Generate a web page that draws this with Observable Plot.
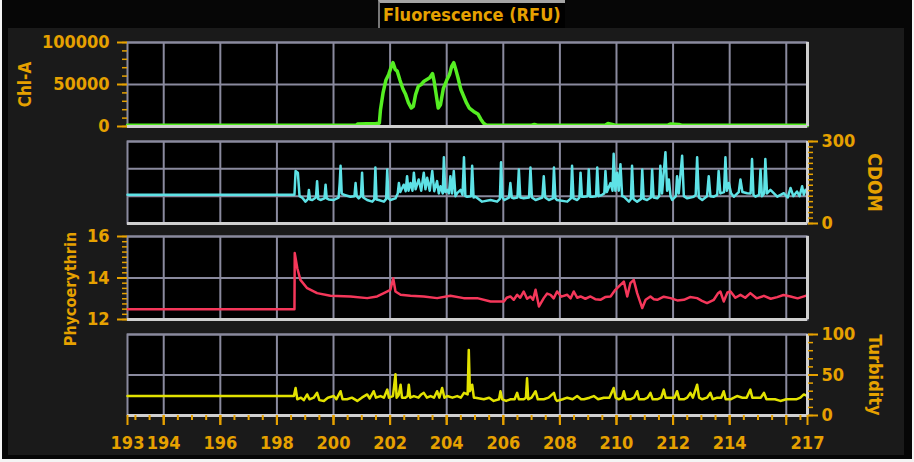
<!DOCTYPE html>
<html><head><meta charset="utf-8">
<script src="https://cdn.jsdelivr.net/npm/d3@7"></script>
<script src="https://cdn.jsdelivr.net/npm/@observablehq/plot@0.6"></script>
<style>
html,body{margin:0;padding:0;background:#fff;}
#wrap{position:relative;width:914px;height:462px;overflow:hidden;background:#f4f4f4;}
#frame{position:absolute;left:2px;top:0;width:910px;height:459px;background:#060606;}
#back{position:absolute;left:8px;top:28px;width:896px;height:427px;background:#1a1a1a;}
#title{position:absolute;left:378px;top:0px;width:187px;height:28px;background:#000;border-top:3px solid #a4a4a4;border-left:2px solid #777;color:#e6a100;font-family:"DejaVu Sans Condensed","DejaVu Sans",sans-serif;font-stretch:condensed;font-weight:bold;font-size:18px;line-height:24px;padding-left:3px;box-sizing:border-box;white-space:nowrap;}
#wrap svg{position:absolute;left:0;}
</style></head><body>
<div id="wrap"><div id="frame"></div><div id="back"></div><div id="title">Fluorescence (RFU)</div></div>
<script>
// ---- X axis (day of year) ----
const xDomain = [192.72, 216.75];
const xGrid = [194,196,198,200,202,204,206,208,210,212,214,216];
const xTickPos = [192.72,194,196,198,200,202,204,206,208,210,212,214,216.75];
const xTickLabels = ["193","194","196","198","200","202","204","206","208","210","212","214","217"];
const xMinor = [193,193.5,194,194.5,195,195.5,196,196.5,197,197.5,198,198.5,199,199.5,200,200.5,201,201.5,202,202.5,203,203.5,204,204.5,205,205.5,206,206.5,207,207.5,208,208.5,209,209.5,210,210.5,211,211.5,212,212.5,213,213.5,214,214.5,215,215.5,216,216.5];

// ---- Chl-A ----
const chlDay = [192.72,200.8,200.85,201.5,201.62,201.66,201.75,201.85,201.95,202.05,202.1,202.18,202.25,202.35,202.45,202.55,202.65,202.75,202.82,202.9,203.0,203.1,203.2,203.3,203.4,203.5,203.55,203.62,203.7,203.78,203.88,204.0,204.1,204.18,204.25,204.32,204.4,204.5,204.6,204.7,204.8,204.95,205.1,205.2,205.3,205.4,207.0,207.1,207.2,209.6,209.7,209.85,209.95,211.8,211.9,212.2,212.3,216.75];
const chlVal = [1500,1500,3000,3500,4000,20000,40000,55000,62000,72000,76000,68000,66000,55000,45000,38000,28000,22000,24000,38000,48000,50000,54000,56000,58000,63000,55000,40000,22000,26000,45000,55000,62000,72000,76000,68000,58000,44000,36000,28000,22000,18000,15000,9000,4000,1500,1500,2500,1500,1500,3500,2500,1500,1500,3000,2500,1500,1500];
const chlTicks = [0,50000,100000];
const chlGrid = [50000,100000];
const chlMinor = [0,10000,20000,30000,40000,50000,60000,70000,80000,90000,100000];

// ---- CDOM ----
const cdomDay = [192.72,198.62,198.66,198.74,198.80,198.89,199.01,199.10,199.13,199.17,199.25,199.38,199.42,199.46,199.54,199.68,199.72,199.76,199.83,200.01,200.18,200.22,200.25,200.29,200.36,200.60,200.74,200.78,200.82,200.89,200.97,201.01,201.05,201.19,201.37,201.44,201.48,201.52,201.60,201.78,201.86,201.90,201.94,202.01,202.19,202.27,202.31,202.36,202.48,202.55,202.60,202.65,202.72,202.79,202.84,202.90,203.01,203.10,203.19,203.25,203.31,203.40,203.49,203.56,203.66,203.72,203.78,203.86,203.90,203.95,204.02,204.08,204.13,204.19,204.25,204.31,204.37,204.49,204.56,204.61,204.66,204.72,204.86,204.90,204.95,205.02,205.25,205.55,205.78,205.88,205.92,205.97,206.04,206.20,206.25,206.30,206.37,206.50,206.55,206.60,206.72,206.91,206.96,207.01,207.14,207.38,207.43,207.48,207.61,207.75,207.79,207.84,207.90,208.26,208.39,208.43,208.48,208.61,208.69,208.73,208.78,208.85,208.98,209.02,209.07,209.14,209.28,209.32,209.37,209.49,209.57,209.61,209.66,209.79,209.86,209.90,209.96,210.02,210.08,210.14,210.20,210.26,210.44,210.51,210.55,210.60,210.73,210.87,210.91,210.96,211.08,211.22,211.26,211.31,211.44,211.51,211.55,211.61,211.73,211.79,211.85,211.91,211.97,212.10,212.14,212.20,212.32,212.38,212.50,212.73,212.80,212.85,212.91,213.03,213.20,213.26,213.32,213.44,213.56,213.61,213.67,213.80,213.85,213.90,213.97,214.05,214.15,214.32,214.38,214.45,214.62,214.74,214.79,214.84,214.91,215.04,215.09,215.14,215.22,215.26,215.32,215.44,215.68,215.80,215.91,216.05,216.15,216.25,216.38,216.47,216.56,216.62,216.68,216.75];
const cdomVal = [105,105,192,186,100,95,80,90,123,88,86,95,155,90,86,92,142,92,88,86,95,150,211,110,105,98,100,148,100,92,100,186,95,86,80,88,205,88,86,80,90,198,92,86,92,110,148,115,142,118,173,120,148,120,186,125,161,120,186,125,167,120,192,118,155,110,136,110,242,115,123,110,173,110,192,100,111,123,105,242,100,98,100,211,95,98,80,86,80,90,224,95,86,95,148,95,92,95,198,95,92,95,205,95,86,95,173,95,86,92,205,92,86,80,92,211,92,86,95,186,98,98,100,198,98,98,100,205,100,105,110,192,115,148,120,255,120,186,120,217,100,98,80,90,211,90,80,90,198,90,86,95,198,95,92,100,211,110,261,120,161,100,86,100,173,110,248,100,92,98,105,242,95,86,100,173,100,98,105,192,110,115,242,120,148,110,98,115,161,115,111,110,236,105,98,105,198,100,110,236,110,123,98,105,111,95,130,100,117,100,136,105,123,115];
const cdomTicks = [0,300];
const cdomGrid = [100,200,300];
const cdomMinor = [0,20,40,60,80,100,120,140,160,180,200,220,240,260,280,300];

// ---- Phycoerythrin ----
const phyDay = [192.72,198.62,198.63,198.72,198.83,199.07,199.42,199.89,200.60,201.19,201.54,201.78,202.01,202.11,202.19,202.37,202.72,203.19,203.66,204.13,204.60,205.08,205.55,206.02,206.12,206.25,206.37,206.49,206.60,206.72,206.84,206.96,207.05,207.14,207.26,207.43,207.55,207.67,207.78,207.90,208.05,208.26,208.38,208.49,208.61,208.73,208.90,209.08,209.25,209.43,209.60,209.79,209.96,210.14,210.26,210.38,210.49,210.61,210.73,210.91,211.03,211.20,211.32,211.44,211.67,211.91,212.15,212.38,212.60,212.85,213.02,213.20,213.44,213.58,213.67,213.79,213.92,214.03,214.20,214.38,214.55,214.73,214.95,215.21,215.45,215.68,215.90,216.15,216.40,216.68];
const phyVal = [12.50,12.50,15.20,14.47,13.91,13.51,13.27,13.14,13.11,13.03,13.11,13.27,13.43,13.99,13.35,13.19,13.14,13.11,13.03,13.14,13.03,13.03,12.87,12.87,13.05,13.11,12.95,13.19,13.05,13.35,13.00,13.11,12.95,13.43,12.63,13.03,13.25,13.19,13.02,13.35,13.10,13.19,13.02,13.35,13.05,13.11,13.00,13.11,12.98,12.95,13.08,13.11,13.43,13.67,13.83,13.11,13.75,13.91,13.27,12.55,12.95,13.11,12.98,12.95,13.10,13.03,12.92,12.95,13.08,13.03,12.90,12.79,12.95,13.25,13.35,12.87,13.30,13.35,13.05,13.19,13.05,13.27,13.02,13.14,13.00,13.08,13.18,13.11,13.02,13.14];
const phyTicks = [12,14,16];
const phyGrid = [14,16];
const phyMinor = [12,12.25,12.5,12.75,13,13.25,13.5,13.75,14,14.25,14.5,14.75,15,15.25,15.5,15.75,16];

// ---- Turbidity ----
const turDay = [192.72,198.60,198.66,198.72,198.85,198.95,199.07,199.15,199.30,199.42,199.50,199.66,199.80,200.01,200.10,200.25,200.32,200.48,200.65,200.84,201.00,201.19,201.28,201.42,201.50,201.66,201.78,201.90,201.96,202.10,202.19,202.23,202.30,202.37,202.42,202.54,202.62,202.66,202.71,202.84,203.00,203.10,203.19,203.30,203.43,203.55,203.66,203.74,203.84,203.92,204.02,204.20,204.37,204.50,204.61,204.74,204.78,204.82,204.90,204.96,205.02,205.31,205.50,205.66,205.85,205.90,205.96,206.10,206.25,206.40,206.49,206.55,206.72,206.80,206.84,206.88,207.00,207.14,207.22,207.43,207.60,207.79,207.85,207.90,208.10,208.26,208.45,208.61,208.75,208.85,209.05,209.20,209.35,209.55,209.75,209.90,209.97,210.08,210.20,210.26,210.33,210.49,210.62,210.73,210.80,210.97,211.10,211.20,211.28,211.44,211.58,211.67,211.74,211.91,212.05,212.14,212.22,212.38,212.50,212.61,212.70,212.85,212.92,213.03,213.20,213.32,213.40,213.56,213.70,213.79,213.86,214.03,214.15,214.26,214.45,214.60,214.73,214.80,214.97,215.10,215.21,215.30,215.44,215.60,215.79,216.00,216.15,216.35,216.50,216.62,216.75];
const turVal = [24,24,34,20,22,19,26,20,22,28,19,18,22,24,20,30,20,20,22,18,22,26,21,30,22,24,22,32,22,24,51,22,25,38,22,22,24,38,22,24,22,26,28,22,24,22,30,22,34,22,24,22,24,22,28,26,81,30,38,22,22,20,22,18,20,30,20,18,20,20,28,20,20,22,46,20,22,30,20,20,22,28,20,18,20,22,20,24,20,20,22,24,20,22,22,34,22,20,22,30,20,20,22,30,20,20,22,28,20,20,22,32,22,22,22,30,20,20,22,28,22,38,22,20,22,28,20,22,22,30,20,20,22,24,22,22,32,22,22,22,28,20,20,20,18,20,20,20,22,26,24];
const turTicks = [0,50,100];
const turGrid = [50,100];
const turMinor = [0,10,20,30,40,50,60,70,80,90,100];

const ORANGE = "#e6a100";
const GRID = "#8a8a9e";
const BORDER = "#cfcfcf";
const FONT = "'DejaVu Sans Condensed','DejaVu Sans',sans-serif";

function panel(o) {
  const mt = 10, mb = o.xAxis ? 47 : 10;
  const data = o.days.map((d, i) => ({day: d, v: o.vals[i]}));
  const side = o.side;
  const fmt = o.fmt || (d => String(d));
  const marks = [
    Plot.frame({fill: "#000", stroke: GRID, strokeWidth: 2}),
    Plot.ruleX(xGrid, {stroke: GRID, strokeWidth: 2}),
    Plot.ruleY(o.grid, {stroke: GRID, strokeWidth: 2}),
    Plot.line(data, {x: "day", y: "v", stroke: o.color, strokeWidth: o.sw, strokeLinejoin: "round"}),
    Plot.ruleY([o.yDomain[0]], {stroke: BORDER, strokeWidth: 3}),
    Plot.ruleX([xDomain[1]], {stroke: BORDER, strokeWidth: 3}),
    Plot.axisY(o.minor, {anchor: side, tickSize: 5, tickFormat: () => "", strokeWidth: 1.5, label: null}),
    Plot.axisY(o.ticks, {anchor: side, tickSize: 10, tickPadding: side === "left" ? 8 : 4, tickFormat: fmt, fontSize: 18, fontWeight: "bold", strokeWidth: 2, label: null}),
    Plot.text([o.title], {frameAnchor: side, dx: o.titleDx, dy: o.titleDy || 0, rotate: side === "left" ? -90 : 90, fill: ORANGE, fontSize: o.titleSize || 17, fontWeight: "bold", textAnchor: "middle"})
  ];
  if (o.xAxis) {
    marks.push(
      Plot.axisX(xMinor, {tickSize: 5, tickFormat: () => "", strokeWidth: 2, label: null}),
      Plot.axisX(xTickPos.concat(xGrid), {tickSize: 10, tickFormat: () => "", strokeWidth: 2, label: null}),
      Plot.axisX(xTickPos, {tickSize: 0, tickPadding: 21, tickFormat: d => xTickLabels[xTickPos.indexOf(d)], fontSize: 18, fontWeight: "bold", label: null})
    );
  }
  const svg = Plot.plot({
    width: 914,
    height: o.plotH + mt + mb,
    marginLeft: 127, marginRight: 107, marginTop: mt, marginBottom: mb,
    x: Object.assign({domain: xDomain}, o.xAxis ? {} : {axis: null}),
    y: {domain: o.yDomain},
    style: {background: "transparent", color: ORANGE, fontFamily: FONT, fontStretch: "condensed", overflow: "visible"},
    marks
  });
  svg.style.top = (o.top - mt) + "px";
  document.getElementById("wrap").appendChild(svg);
}

panel({days: chlDay, vals: chlVal, color: "#55ee22", sw: 3.5, yDomain: [0, 100000], ticks: chlTicks, grid: chlGrid, minor: chlMinor, side: "left", top: 42, plotH: 84, title: "Chl-A", titleDx: -102});
panel({days: cdomDay, vals: cdomVal, color: "#5ee2e6", sw: 2.5, yDomain: [0, 300], ticks: cdomTicks, grid: cdomGrid, minor: cdomMinor, side: "right", top: 141, plotH: 82, title: "CDOM", titleDx: 67, titleSize: 19});
panel({days: phyDay, vals: phyVal, color: "#f5375a", sw: 2.5, yDomain: [12, 16], ticks: phyTicks, grid: phyGrid, minor: phyMinor, side: "left", top: 236, plotH: 83, title: "Phycoerythrin", titleDx: -57, titleDy: 11, titleSize: 16});
panel({days: turDay, vals: turVal, color: "#e2e200", sw: 2.5, yDomain: [0, 100], ticks: turTicks, grid: turGrid, minor: turMinor, side: "right", top: 334, plotH: 81, xAxis: true, title: "Turbidity", titleDx: 67, titleSize: 18});
</script>
</body></html>
